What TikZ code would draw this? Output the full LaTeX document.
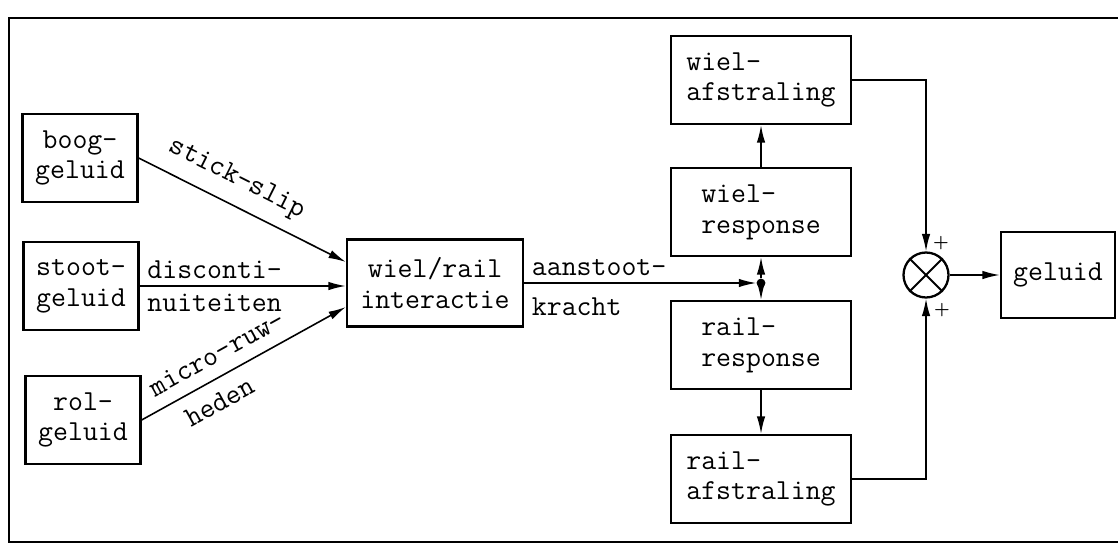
\documentclass[tikz,border=0pt]{standalone}
\usetikzlibrary{arrows.meta, positioning, calc}

\begin{document}
\begin{tikzpicture}[
    x=0.02cm, y=-0.02cm,
    block/.style={draw, line width=1.3pt, minimum width=2.3cm, minimum height=1.76cm, font=\ttfamily\fontsize{16.5}{17.5}\selectfont, align=center, inner sep=2pt},
    wide/.style={block, minimum width=3.6cm, align=left},
    arrow/.style={-{Latex[length=3.5mm, width=1.7mm]}, line width=0.9pt},
    lbl/.style={font=\ttfamily\fontsize{16.5}{17.5}\selectfont, inner sep=4pt},
    slbl/.style={lbl, sloped, inner sep=7pt},
    plus/.style={font=\bfseries\fontsize{10}{10}\selectfont, inner sep=0pt},
]
\useasboundingbox (0,0) rectangle (1118,551);
\draw[line width=1pt] (1118,18) -- (9,18) -- (9,542) -- (1118,542);

\node[block] (boog) at (80,158) {boog-\\geluid};
\node[block] (stoot) at (81,286) {stoot-\\geluid};
\node[block] (rol) at (83,420) {rol-\\geluid};
\node[block, minimum width=3.52cm, minimum height=1.74cm] (inter) at (435,283) {wiel/rail\\interactie};

\node[wide] (wafs) at (761,80) {wiel-\\afstraling};
\node[wide] (wresp) at (761,212) {wiel-\\response};
\node[wide] (rresp) at (761,345) {rail-\\response};
\node[wide] (rafs) at (761,479) {rail-\\afstraling};

\node[circle, fill, inner sep=0pt, minimum size=5pt] (junc) at (761,283) {};
\node[circle, draw, line width=1.3pt, inner sep=0pt, minimum size=0.9cm] (sum) at (926,275) {};
\draw[line width=1.1pt] (sum.north west) -- (sum.south east) (sum.north east) -- (sum.south west);
\node[block, minimum width=2.28cm, minimum height=1.72cm] (geluid) at (1058,275) {geluid};

\node[plus] (plusT) at (941,243) {+};
\node[plus] (plusB) at (942,310) {+};

\draw[arrow] (boog.east) -- node[slbl, above, pos=0.42] (slip) {stick-slip} ($(inter.west)+(0,-21)$);
\draw[arrow] (stoot.east) -- node[lbl, pos=0, above right] (disc1) {disconti-} node[lbl, pos=0, below right] (disc2) {nuiteiten} (stoot.east -| inter.west);
\draw[arrow] (rol.east) -- node[slbl, above, pos=0.42] (ruw1) {micro-ruw-} node[slbl, below, pos=0.33] (ruw2) {heden} ($(inter.west)+(0,24)$);

\draw[arrow] (inter.east) -- node[lbl, pos=0, above right] (kr1) {aanstoot-} node[lbl, pos=0, below right, yshift=-4pt] (kr2) {kracht} (junc);
\draw[arrow] (junc) -- (wresp.south);
\draw[arrow] (junc) -- (rresp.north);
\draw[arrow] (wresp) -- (wafs);
\draw[arrow] (rresp) -- (rafs);

\draw[arrow] (wafs.east) -| (sum.north);
\draw[arrow] (rafs.east) -| (sum.south);
\draw[arrow] (sum.east) -- (sum.east -| geluid.west);

\end{tikzpicture}
\end{document}
